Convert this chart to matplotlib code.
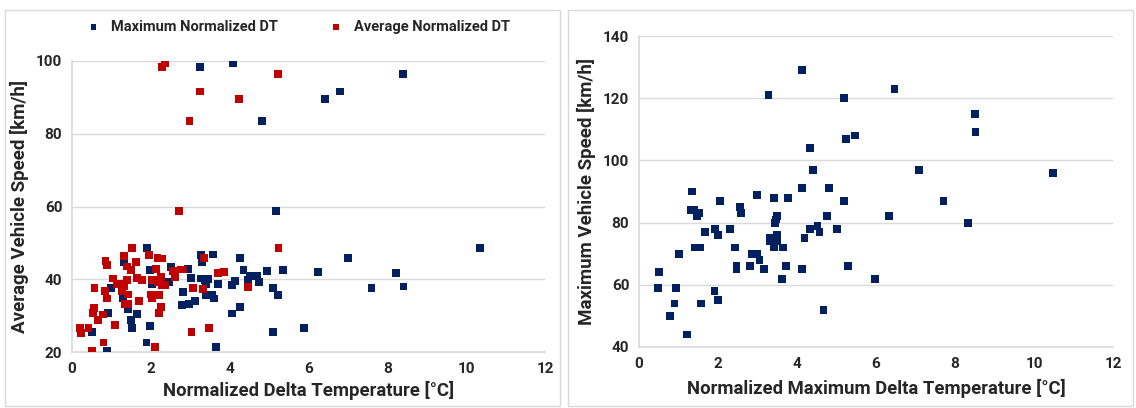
import matplotlib.pyplot as plt
from matplotlib.patches import Rectangle

# left chart: normalized delta temperature vs average speed
max_dt_x = [3.24, 4.08, 8.40, 6.79, 6.41, 4.81, 5.18, 10.36, 7.00, 6.25, 8.22, 7.60, 8.41, 5.89,
            5.11, 3.66, 1.89, 0.89, 1.97, 1.52, 0.51, 1.49, 1.64, 0.91, 1.41, 1.30, 0.99, 1.32,
            1.90, 1.97, 2.51, 2.03, 2.46, 3.28, 3.58, 3.30, 4.27, 2.95, 3.01, 3.28, 3.37, 3.44,
            3.41, 4.35, 4.95, 5.36, 3.71, 4.07, 4.13, 4.46, 4.51, 4.70, 4.74, 5.11, 5.22, 2.81,
            3.41, 3.55, 3.60, 3.11, 2.96, 2.78, 4.27, 4.07]
max_dt_y = [98.4, 99.4, 96.5, 91.6, 89.6, 83.5, 58.7, 48.5, 45.8, 42.0, 41.8, 37.5, 38.0, 26.7,
            25.6, 21.3, 22.6, 20.4, 27.2, 26.5, 25.4, 28.8, 30.4, 30.7, 31.8, 34.7, 37.6, 44.7,
            48.5, 42.5, 43.3, 38.8, 39.3, 46.6, 46.8, 44.7, 45.8, 42.9, 40.4, 40.2, 39.7, 40.0,
            38.8, 42.5, 42.2, 42.5, 38.8, 38.4, 39.5, 39.7, 40.9, 40.9, 39.3, 37.7, 35.6, 36.5,
            35.6, 35.8, 34.7, 34.0, 33.2, 32.9, 32.4, 30.6]

avg_dt_x = [2.28, 2.37, 5.23, 3.24, 4.23, 2.98, 2.72, 5.24, 2.10, 0.50, 0.80, 3.03, 3.47,
            1.53, 1.32, 1.96, 2.17, 2.28, 0.85, 0.89, 1.63, 1.39, 1.50, 2.13, 1.05, 1.15, 1.22,
            1.31, 1.65, 1.77, 1.40, 2.03, 2.13, 2.26, 2.19, 2.28, 2.36, 0.57, 0.83, 1.27, 1.43,
            2.01, 2.03, 2.21, 0.89, 1.69, 1.35, 1.43, 2.25, 2.21, 0.56, 0.54, 0.78, 0.66, 1.10,
            0.21, 0.42, 0.23, 3.35, 2.56, 2.76, 2.82, 2.61, 3.71, 3.86, 4.46, 3.06, 3.32]
avg_dt_y = [98.4, 99.4, 96.5, 91.6, 89.6, 83.5, 58.7, 48.5, 21.3, 20.4, 22.6, 25.6, 26.7,
            48.5, 46.5, 46.7, 45.8, 45.7, 44.9, 44.0, 44.7, 43.5, 42.5, 42.9, 40.2, 38.8, 38.8,
            38.2, 40.4, 39.9, 39.7, 39.7, 39.9, 40.6, 39.3, 38.4, 38.4, 37.6, 36.8, 36.7, 35.8,
            35.8, 34.9, 35.6, 34.7, 34.0, 33.1, 33.2, 32.4, 30.7, 32.0, 30.7, 30.3, 28.8, 27.4,
            26.6, 26.6, 25.2, 45.8, 42.2, 42.7, 42.7, 40.6, 41.8, 42.0, 37.9, 37.6, 37.4]

# right chart: normalized max delta temperature vs max speed
mx_x = [0.48, 0.50, 0.78, 0.90, 0.93, 1.01, 1.22, 1.31, 1.35, 1.39, 1.42, 1.47, 1.53, 1.54,
        1.58, 1.67, 1.91, 1.92, 2.00, 2.00, 2.05, 2.30, 2.42, 2.47, 2.47, 2.55, 2.58, 2.81,
        2.85, 2.99, 2.99, 3.05, 3.16, 3.28, 3.32, 3.32, 3.41, 3.41, 3.44, 3.46, 3.49, 3.49,
        3.49, 3.62, 3.65, 3.72, 3.77, 4.13, 4.13, 4.13, 4.19, 4.33, 4.33, 4.41, 4.52, 4.57,
        4.67, 4.75, 4.80, 5.01, 5.18, 5.18, 5.23, 5.29, 5.46, 5.97, 6.33, 6.47, 7.08, 7.71,
        8.33, 8.50, 8.52, 10.48]
mx_y = [59, 64, 50, 54, 59, 70, 44, 84, 90, 84, 72, 82, 83, 72,
        54, 77, 58, 78, 76, 55, 87, 78, 72, 66, 65, 85, 83, 66,
        70, 70, 89, 68, 65, 121, 75, 74, 72, 88, 80, 81, 82, 76,
        74, 62, 72, 66, 88, 129, 91, 65, 75, 104, 78, 97, 79, 77,
        52, 82, 91, 78, 87, 120, 107, 66, 108, 62, 82, 123, 97, 87,
        80, 115, 109, 96]

blue = '#002060'
red = '#C00000'
grid_c = '#D9D9D9'
txt_c = '#262626'

plt.rcParams['font.family'] = ['Roboto', 'DejaVu Sans']

fig = plt.figure(figsize=(11.36, 4.08), dpi=100)

# chart area borders
fig.patches.append(Rectangle((5 / 1136, 2 / 408), 555 / 1136, 396 / 408, transform=fig.transFigure,
                             fill=False, edgecolor=grid_c, linewidth=1))
fig.patches.append(Rectangle((568 / 1136, 2 / 408), 565 / 1136, 396 / 408, transform=fig.transFigure,
                             fill=False, edgecolor=grid_c, linewidth=1))


def style(ax, ylim, yticks):
    ax.set_xlim(0, 12)
    ax.set_ylim(*ylim)
    ax.set_xticks(range(0, 13, 2))
    ax.set_yticks(yticks)
    ax.grid(axis='y', color=grid_c, linewidth=1)
    ax.set_axisbelow(True)
    for s in ['top', 'right']:
        ax.spines[s].set_visible(False)
    for s in ['left', 'bottom']:
        ax.spines[s].set_color(grid_c)
        ax.spines[s].set_linewidth(1.2)
    ax.tick_params(length=0, pad=7, labelsize=11, labelcolor=txt_c)
    for lab in ax.get_yticklabels() + ax.get_xticklabels():
        lab.set_fontweight('bold')


ax1 = fig.add_axes([72 / 1136, 1 - 352 / 408, 473 / 1136, 291 / 408])
ax1.scatter(max_dt_x, max_dt_y, marker='s', s=32, color=blue, edgecolors='none',
            label='Maximum Normalized DT', zorder=3)
ax1.scatter(avg_dt_x, avg_dt_y, marker='s', s=32, color=red, edgecolors='none',
            label='Average Normalized DT', zorder=3)
style(ax1, (20, 100), [20, 40, 60, 80, 100])
ax1.set_xlabel('Normalized Delta Temperature [°C]', fontsize=13.3, fontweight='bold',
               color=txt_c, labelpad=4)
ax1.set_ylabel('Average Vehicle Speed [km/h]', fontsize=13.5, fontweight='bold',
               color=txt_c, labelpad=5)
ax1.legend(loc='center', bbox_to_anchor=(0.47, 1.117), ncol=2, frameon=False,
           prop={'weight': 'bold', 'size': 10.5}, handletextpad=0.2, columnspacing=3.0,
           markerscale=0.7, labelcolor=txt_c)

ax2 = fig.add_axes([639 / 1136, 1 - 347 / 408, 474 / 1136, 311 / 408])
ax2.scatter(mx_x, mx_y, marker='s', s=32, color=blue, edgecolors='none', zorder=3)
style(ax2, (40, 140), [40, 60, 80, 100, 120, 140])
ax2.set_xlabel('Normalized Maximum Delta Temperature [°C]', fontsize=13.3, fontweight='bold',
               color=txt_c, labelpad=6)
ax2.set_ylabel('Maximum Vehicle Speed [km/h]', fontsize=13.5, fontweight='bold',
               color=txt_c, labelpad=5)

fig.savefig('out.png', dpi=100)
